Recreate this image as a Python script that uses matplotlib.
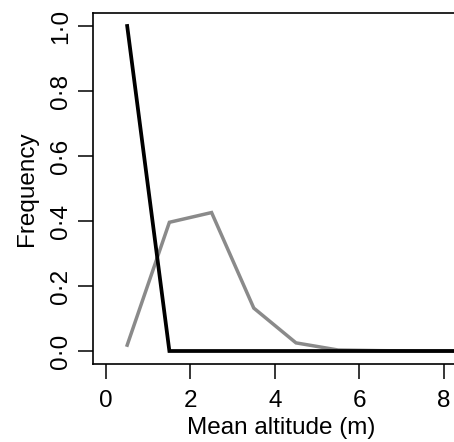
import numpy as np
import matplotlib.pyplot as plt

plt.rcParams["font.family"] = ["Liberation Sans", "DejaVu Sans"]

# mean altitude bins (m) and frequencies
altitude = [0.5, 1.5, 2.5, 3.5, 4.5, 5.5, 6.5, 7.5, 8.5, 9.5]
freq_black = [1.0, 0.0, 0.0, 0.0, 0.0, 0.0, 0.0, 0.0, 0.0, 0.0]
freq_grey = [0.018, 0.396, 0.426, 0.132, 0.025, 0.003, 0.001, 0.0, 0.0, 0.0]

xticks = [0, 2, 4, 6, 8]
yticks = [0.0, 0.2, 0.4, 0.6, 0.8, 1.0]
ytick_labels = ["0·0", "0·2", "0·4", "0·6", "0·8", "1·0"]

W, H = 454, 442
fig = plt.figure(figsize=(W / 100, H / 100), dpi=100)

# axes box: left 93 px, top 13 px, bottom 364 px; right side runs off the picture
x0, x1 = -0.31, 8.6
px_per_unit = 42.2
left = 93
right = left + (x1 - x0) * px_per_unit
ax = fig.add_axes([left / W, 1 - 364 / H, (right - left) / W, (364 - 13) / H])

ax.plot(altitude, freq_grey, color="#8a8a8a", lw=2.5, solid_joinstyle="miter")
ax.plot(altitude, freq_black, color="black", lw=2.7, solid_joinstyle="miter")

ax.set_xlim(x0, x1)
ax.set_ylim(-0.04, 1.04)
ax.set_xticks(xticks)
ax.set_yticks(yticks)
ax.set_yticklabels(ytick_labels, rotation=90, va="center")
ax.tick_params(length=11, width=1.1, labelsize=17.5)
ax.tick_params(axis="x", pad=8)
ax.tick_params(axis="y", pad=4)

for s in ax.spines.values():
    s.set_linewidth(1.2)

ax.set_xlabel("Mean altitude (m)", fontsize=17.5, labelpad=3)
ax.set_ylabel("Frequency", fontsize=17.5, labelpad=9)

fig.savefig("out.png", dpi=100)
